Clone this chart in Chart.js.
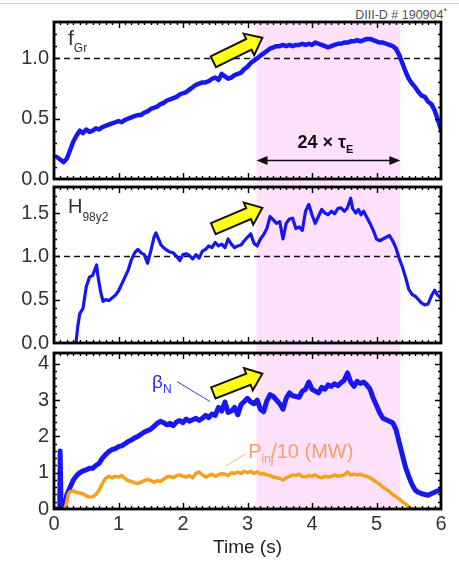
<!DOCTYPE html>
<html>
<head>
<meta charset="utf-8">
<script src="https://cdn.jsdelivr.net/npm/chart.js@4.4.1/dist/chart.umd.min.js"></script>
<style>
  html, body { margin: 0; padding: 0; background: #fff; }
  #wrap { position: relative; width: 459px; height: 561px; overflow: hidden; background: #fff; }
  #wrap canvas { position: absolute; left: 0; }
  #topline { position: absolute; left: 0; top: 3px; width: 459px; height: 1px; background: #d3d7db; }
  #shot { position: absolute; right: 12px; top: 6px; font: 12.5px 'Liberation Sans', Arial, sans-serif; color: #505050; }
  #shot sup { font-size: 9px; }
</style>
</head>
<body>
<div id="wrap">
  <div id="topline"></div>
  <div id="shot">DIII-D # 190904<sup>*</sup></div>
  <canvas id="panelGr" width="459" height="195" style="top:0"></canvas>
  <canvas id="panelH" width="459" height="185" style="top:175px"></canvas>
  <canvas id="panelBeta" width="459" height="220" style="top:341px"></canvas>
</div>
<script>
// flat-top window (s)
const flatTop = [3.14, 5.37];

const timeTicks = [0, 1, 2, 3, 4, 5, 6];
const grTicks = [0, 0.5, 1.0];
const hTicks = [0, 0.5, 1.0, 1.5];
const betaTicks = [0, 1, 2, 3, 4];

// Greenwald fraction [t, f_Gr]
const fGr = [
  [0.05,0.18],[0.10,0.16],[0.15,0.14],[0.20,0.17],[0.25,0.24],[0.30,0.31],[0.35,0.36],[0.40,0.40],
  [0.45,0.38],[0.50,0.41],[0.55,0.39],[0.60,0.40],[0.65,0.42],[0.70,0.41],[0.75,0.43],[0.80,0.44],
  [0.85,0.45],[0.90,0.46],[0.95,0.47],[1.00,0.48],[1.05,0.47],[1.10,0.49],[1.15,0.50],[1.20,0.51],
  [1.25,0.52],[1.30,0.53],[1.35,0.53],[1.40,0.55],[1.45,0.56],[1.50,0.58],[1.55,0.59],[1.60,0.60],
  [1.65,0.62],[1.70,0.63],[1.75,0.65],[1.80,0.66],[1.85,0.67],[1.90,0.68],[1.95,0.70],[2.00,0.71],
  [2.05,0.72],[2.10,0.74],[2.15,0.76],[2.20,0.78],[2.25,0.79],[2.30,0.80],[2.35,0.80],[2.40,0.81],
  [2.45,0.83],[2.50,0.84],[2.55,0.82],[2.60,0.87],[2.65,0.85],[2.70,0.83],[2.75,0.84],[2.80,0.86],
  [2.85,0.87],[2.90,0.88],[2.95,0.91],[3.00,0.93],[3.05,0.96],[3.10,0.98],[3.15,1.00],[3.20,1.02],
  [3.25,1.04],[3.30,1.06],[3.35,1.08],[3.40,1.09],[3.45,1.10],[3.50,1.10],[3.55,1.11],[3.60,1.10],
  [3.65,1.11],[3.70,1.10],[3.75,1.11],[3.80,1.11],[3.85,1.12],[3.90,1.11],[3.95,1.12],[4.00,1.11],
  [4.05,1.13],[4.10,1.12],[4.15,1.11],[4.20,1.10],[4.25,1.09],[4.30,1.10],[4.35,1.11],[4.40,1.12],
  [4.45,1.12],[4.50,1.13],[4.55,1.13],[4.60,1.14],[4.65,1.14],[4.70,1.15],[4.75,1.14],[4.80,1.15],
  [4.85,1.16],[4.90,1.16],[4.95,1.15],[5.00,1.14],[5.05,1.13],[5.10,1.13],[5.15,1.12],[5.20,1.11],
  [5.25,1.10],[5.30,1.08],[5.35,1.03],[5.40,0.96],[5.45,0.89],[5.50,0.83],[5.55,0.79],[5.60,0.76],
  [5.65,0.72],[5.70,0.69],[5.75,0.68],[5.80,0.64],[5.85,0.62],[5.90,0.57],[5.95,0.49],[6.00,0.41]
];

// confinement factor H98y2 [t, H]
const h98 = [
  [0.34,0.00],[0.37,0.20],[0.40,0.34],[0.45,0.40],[0.50,0.65],[0.55,0.76],[0.60,0.78],[0.63,0.84],
  [0.66,0.90],[0.68,0.78],[0.72,0.60],[0.76,0.48],[0.80,0.50],[0.85,0.49],[0.90,0.52],[0.95,0.55],
  [1.00,0.60],[1.05,0.68],[1.10,0.76],[1.15,0.84],[1.20,0.96],[1.25,1.04],[1.30,1.08],[1.35,1.04],
  [1.40,1.02],[1.45,0.92],[1.50,1.06],[1.55,1.22],[1.58,1.27],[1.62,1.20],[1.66,1.13],[1.70,1.10],
  [1.75,1.07],[1.80,1.05],[1.85,1.04],[1.90,1.00],[1.95,0.95],[2.00,1.02],[2.05,1.03],[2.10,1.01],
  [2.15,0.97],[2.20,1.02],[2.25,0.98],[2.30,1.06],[2.35,1.08],[2.40,1.12],[2.45,1.10],[2.50,1.16],
  [2.55,1.12],[2.60,1.14],[2.65,1.10],[2.70,1.20],[2.75,1.14],[2.80,1.10],[2.85,1.12],[2.90,1.13],
  [2.95,1.18],[3.00,1.22],[3.05,1.26],[3.10,1.15],[3.15,1.12],[3.20,1.20],[3.25,1.25],[3.30,1.32],
  [3.35,1.46],[3.40,1.42],[3.45,1.38],[3.50,1.40],[3.55,1.20],[3.60,1.38],[3.65,1.43],[3.70,1.44],
  [3.75,1.32],[3.80,1.34],[3.85,1.30],[3.90,1.52],[3.95,1.60],[4.00,1.48],[4.05,1.38],[4.10,1.46],
  [4.15,1.54],[4.20,1.50],[4.25,1.48],[4.30,1.52],[4.35,1.49],[4.40,1.55],[4.45,1.56],[4.50,1.52],
  [4.55,1.56],[4.60,1.67],[4.63,1.55],[4.68,1.50],[4.72,1.54],[4.76,1.48],[4.80,1.52],[4.85,1.45],
  [4.90,1.38],[4.95,1.30],[5.00,1.20],[5.05,1.18],[5.10,1.20],[5.15,1.22],[5.20,1.24],[5.25,1.18],
  [5.30,1.10],[5.35,0.98],[5.40,0.88],[5.45,0.76],[5.50,0.62],[5.55,0.56],[5.60,0.54],[5.65,0.50],
  [5.70,0.46],[5.75,0.44],[5.80,0.45],[5.85,0.54],[5.90,0.61],[5.95,0.55],[6.00,0.52]
];

// normalised beta [t, beta_N]
const betaN = [
  [0.02,0.00],[0.09,0.00],[0.095,1.60],[0.105,1.60],[0.11,0.00],[0.15,0.00],[0.17,0.10],[0.20,0.40],
  [0.25,0.60],[0.30,0.80],[0.35,0.92],[0.40,1.00],[0.45,1.05],[0.50,1.08],[0.55,1.12],[0.60,1.12],
  [0.65,1.20],[0.70,1.26],[0.75,1.40],[0.80,1.50],[0.85,1.58],[0.90,1.64],[0.95,1.66],[1.00,1.72],
  [1.05,1.74],[1.10,1.80],[1.15,1.86],[1.20,1.90],[1.25,1.96],[1.30,2.00],[1.35,2.06],[1.40,2.12],
  [1.45,2.16],[1.50,2.20],[1.55,2.28],[1.60,2.36],[1.65,2.42],[1.70,2.38],[1.75,2.32],[1.80,2.36],
  [1.85,2.30],[1.90,2.40],[1.95,2.44],[2.00,2.38],[2.05,2.48],[2.10,2.42],[2.15,2.46],[2.20,2.50],
  [2.25,2.44],[2.30,2.50],[2.35,2.58],[2.40,2.52],[2.45,2.62],[2.50,2.58],[2.55,2.80],[2.60,2.70],
  [2.65,2.95],[2.70,2.66],[2.75,2.70],[2.80,2.80],[2.85,2.60],[2.90,2.88],[2.95,2.96],[3.00,3.05],
  [3.05,2.95],[3.10,2.90],[3.15,3.00],[3.20,2.75],[3.25,2.68],[3.30,2.98],[3.35,3.15],[3.40,3.10],
  [3.45,3.00],[3.50,2.90],[3.55,2.75],[3.60,3.05],[3.65,3.20],[3.70,3.12],[3.75,3.10],[3.80,3.08],
  [3.85,3.25],[3.90,3.30],[3.95,3.50],[4.00,3.30],[4.05,3.25],[4.10,3.20],[4.15,3.35],[4.20,3.30],
  [4.25,3.42],[4.30,3.38],[4.35,3.45],[4.40,3.40],[4.45,3.48],[4.50,3.55],[4.55,3.75],[4.60,3.50],
  [4.65,3.38],[4.70,3.52],[4.75,3.46],[4.80,3.50],[4.85,3.42],[4.90,3.30],[4.95,3.05],[5.00,2.85],
  [5.05,2.65],[5.10,2.50],[5.15,2.46],[5.20,2.42],[5.25,2.38],[5.30,2.20],[5.35,1.85],[5.40,1.50],
  [5.45,1.15],[5.50,0.90],[5.55,0.68],[5.60,0.52],[5.65,0.46],[5.70,0.42],[5.75,0.40],[5.80,0.38],
  [5.85,0.42],[5.90,0.46],[5.95,0.50],[6.00,0.52]
];

// injected power / 10 (MW) [t, P]
const pInj = [
  [0.17,0.00],[0.20,0.20],[0.22,0.40],[0.25,0.48],[0.30,0.50],[0.35,0.46],[0.40,0.44],[0.45,0.42],
  [0.50,0.36],[0.55,0.33],[0.60,0.34],[0.65,0.40],[0.70,0.52],[0.75,0.70],[0.80,0.85],[0.85,0.90],
  [0.90,0.86],[0.95,0.90],[1.00,0.88],[1.05,0.92],[1.10,0.84],[1.15,0.78],[1.20,0.76],[1.25,0.72],
  [1.30,0.70],[1.35,0.74],[1.40,0.78],[1.45,0.82],[1.50,0.78],[1.55,0.74],[1.60,0.78],[1.65,0.76],
  [1.70,0.82],[1.75,0.88],[1.80,0.90],[1.85,0.86],[1.90,0.92],[1.95,0.94],[2.00,0.90],[2.05,0.88],
  [2.10,0.92],[2.15,0.86],[2.20,0.98],[2.25,1.02],[2.30,0.94],[2.35,0.88],[2.40,0.92],[2.45,0.96],
  [2.50,0.90],[2.55,0.94],[2.60,0.98],[2.65,0.96],[2.70,0.92],[2.75,1.00],[2.80,0.98],[2.85,1.02],
  [2.90,0.98],[2.95,1.04],[3.00,1.00],[3.05,1.04],[3.10,0.98],[3.15,1.02],[3.20,0.96],[3.25,0.98],
  [3.30,0.94],[3.35,0.92],[3.40,0.88],[3.45,0.86],[3.50,0.84],[3.55,0.80],[3.60,0.86],[3.65,0.90],
  [3.70,0.94],[3.75,0.92],[3.80,0.96],[3.85,0.90],[3.90,0.88],[3.95,0.92],[4.00,0.90],[4.05,0.94],
  [4.10,0.88],[4.15,0.86],[4.20,0.90],[4.25,0.88],[4.30,0.90],[4.35,0.94],[4.40,0.90],[4.45,0.92],
  [4.50,0.94],[4.55,1.02],[4.60,0.94],[4.65,0.96],[4.70,0.94],[4.75,0.96],[4.80,0.92],[4.85,0.90],
  [4.90,0.86],[4.95,0.80],[5.00,0.74],[5.05,0.68],[5.10,0.60],[5.15,0.54],[5.20,0.48],[5.25,0.40],
  [5.30,0.34],[5.35,0.28],[5.40,0.20],[5.45,0.14],[5.50,0.06],[5.55,0.01],[5.60,0.00],[6.00,0.00]
];

const FONT = "'Liberation Sans', Arial, Helvetica, sans-serif";
Chart.defaults.font.family = FONT;

const BLUE = '#1717f2';
const ORANGE = '#f6a11e';
const PINK = '#fde1fb';

const toPoints = pairs => pairs.map(([x, y]) => ({ x, y }));

// shaded window, reference line, boxed frame with inward ticks
const framePlugin = {
  id: 'frame',
  beforeDatasetsDraw(chart, args, opts) {
    const { ctx, chartArea: a, scales: { x, y } } = chart;
    const xs = x.getPixelForValue(flatTop[0]);
    const xe = x.getPixelForValue(flatTop[1]);
    ctx.save();
    ctx.fillStyle = PINK;
    // carry the band down through the gap to the next panel
    ctx.fillRect(xs, a.top, xe - xs, a.bottom - a.top + (opts.gapBelow || 0));
    if (opts.refLine) {
      const yy = Math.round(y.getPixelForValue(opts.refLine)) + 0.5;
      ctx.setLineDash([6, 4]);
      ctx.strokeStyle = '#111';
      ctx.lineWidth = 1.7;
      ctx.beginPath();
      ctx.moveTo(a.left, yy);
      ctx.lineTo(a.right, yy);
      ctx.stroke();
    }
    ctx.restore();
  },
  afterDatasetsDraw(chart, args, opts) {
    const { ctx, chartArea: a, scales: { x, y } } = chart;
    ctx.save();
    ctx.strokeStyle = '#000';
    ctx.lineWidth = 1.4;
    ctx.beginPath();
    for (let i = 1; i < 60; i++) {
      const px = Math.round(x.getPixelForValue(i / 10)) + 0.5;
      const len = i % 10 === 0 ? 6 : 3;
      ctx.moveTo(px, a.bottom); ctx.lineTo(px, a.bottom - len);
      ctx.moveTo(px, a.top); ctx.lineTo(px, a.top + len);
    }
    const steps = Math.round(y.max / opts.minor);
    for (let j = 1; j < steps; j++) {
      const v = j * opts.minor;
      const py = Math.round(y.getPixelForValue(v)) + 0.5;
      const r = v / opts.major;
      const len = Math.abs(r - Math.round(r)) < 1e-6 ? 6 : 3;
      ctx.moveTo(a.left, py); ctx.lineTo(a.left + len, py);
      ctx.moveTo(a.right, py); ctx.lineTo(a.right - len, py);
    }
    ctx.stroke();
    ctx.lineWidth = 2.8;
    ctx.strokeRect(a.left, a.top, a.right - a.left, a.bottom - a.top);
    ctx.restore();
  }
};

function subText(ctx, x, y, main, sub, size, subSize, color, drop, weight) {
  const w8 = weight || 'normal';
  ctx.fillStyle = color;
  ctx.textAlign = 'left';
  ctx.textBaseline = 'alphabetic';
  ctx.font = `${w8} ${size}px ${FONT}`;
  ctx.fillText(main, x, y);
  const w = ctx.measureText(main).width;
  ctx.font = `${w8} ${subSize}px ${FONT}`;
  ctx.fillText(sub, x + w, y + drop);
  return x + w + ctx.measureText(sub).width;
}

// yellow block arrow between two data points
function fatArrow(chart, from, to) {
  const { ctx, scales: { x, y } } = chart;
  const x0 = x.getPixelForValue(from[0]), y0 = y.getPixelForValue(from[1]);
  const x1 = x.getPixelForValue(to[0]), y1 = y.getPixelForValue(to[1]);
  const len = Math.hypot(x1 - x0, y1 - y0);
  const bw = 6, hw = 12, hl = 15;
  ctx.save();
  ctx.translate(x0, y0);
  ctx.rotate(Math.atan2(y1 - y0, x1 - x0));
  ctx.beginPath();
  ctx.moveTo(0, -bw);
  ctx.lineTo(len - hl, -bw);
  ctx.lineTo(len - hl, -hw);
  ctx.lineTo(len, 0);
  ctx.lineTo(len - hl, hw);
  ctx.lineTo(len - hl, bw);
  ctx.lineTo(0, bw);
  ctx.closePath();
  ctx.fillStyle = '#ffff14';
  ctx.fill();
  ctx.lineWidth = 2;
  ctx.lineJoin = 'miter';
  ctx.strokeStyle = '#151515';
  ctx.stroke();
  ctx.restore();
}

function leader(chart, from, to, color) {
  const { ctx, scales: { x, y } } = chart;
  ctx.save();
  ctx.strokeStyle = color;
  ctx.lineWidth = 1;
  ctx.beginPath();
  ctx.moveTo(x.getPixelForValue(from[0]), y.getPixelForValue(from[1]));
  ctx.lineTo(x.getPixelForValue(to[0]), y.getPixelForValue(to[1]));
  ctx.stroke();
  ctx.restore();
}

function grNotes(chart) {
  const { ctx, chartArea: a, scales: { x, y } } = chart;
  subText(ctx, a.left + 14, a.top + 23, 'f', 'Gr', 21, 12, '#333', 7);

  // span of the flat-top window
  const xs = x.getPixelForValue(flatTop[0]);
  const xe = x.getPixelForValue(flatTop[1]);
  const ya = Math.round(y.getPixelForValue(0.16)) + 0.5;
  ctx.save();
  ctx.strokeStyle = '#111';
  ctx.fillStyle = '#111';
  ctx.lineWidth = 1.6;
  ctx.beginPath();
  ctx.moveTo(xs + 8, ya); ctx.lineTo(xe - 8, ya);
  ctx.stroke();
  ctx.beginPath();
  ctx.moveTo(xs, ya); ctx.lineTo(xs + 11, ya - 4.5); ctx.lineTo(xs + 11, ya + 4.5); ctx.closePath();
  ctx.moveTo(xe, ya); ctx.lineTo(xe - 11, ya - 4.5); ctx.lineTo(xe - 11, ya + 4.5); ctx.closePath();
  ctx.fill();

  ctx.font = `bold 18px ${FONT}`;
  const wMain = ctx.measureText('24 \u00d7 \u03c4').width;
  ctx.font = `bold 11px ${FONT}`;
  const wSub = ctx.measureText('E').width;
  const start = (xs + xe) / 2 - (wMain + wSub) / 2 - 3;
  subText(ctx, start, y.getPixelForValue(0.256), '24 \u00d7 \u03c4', 'E', 18, 11, '#111', 5, 'bold');
  ctx.restore();

  fatArrow(chart, [2.47, 0.97], [3.23, 1.17]);
}

function hNotes(chart) {
  const { ctx, chartArea: a } = chart;
  subText(ctx, a.left + 14, a.top + 26, 'H', '98y2', 20, 12, '#333', 8);
  fatArrow(chart, [2.47, 1.32], [3.23, 1.56]);
}

function betaNotes(chart) {
  const { ctx, scales: { x, y } } = chart;
  subText(ctx, x.getPixelForValue(1.52), y.getPixelForValue(3.34), '\u03b2', 'N', 19, 12, '#2a2af5', 5);
  leader(chart, [1.91, 3.51], [2.42, 2.96], '#3a3af0');
  subText(ctx, x.getPixelForValue(3.01), y.getPixelForValue(1.41), 'P', 'inj', 20, 12, '#f3a167', 5);
  ctx.font = `20px ${FONT}`;
  ctx.fillText('/10 (MW)', x.getPixelForValue(3.01) + 23, y.getPixelForValue(1.41));
  leader(chart, [2.67, 1.19], [2.97, 1.52], '#f5b27a');
  fatArrow(chart, [2.47, 3.2], [3.23, 3.73]);
}

function makePanel(id, cfg) {
  return new Chart(document.getElementById(id), {
    type: 'line',
    data: { datasets: cfg.datasets },
    options: {
      responsive: false,
      animation: false,
      devicePixelRatio: 1,
      layout: { padding: cfg.padding, autoPadding: false },
      elements: {
        point: { radius: 0 },
        line: { tension: 0, borderJoinStyle: 'round', borderCapStyle: 'round' }
      },
      plugins: {
        legend: { display: false },
        tooltip: { enabled: false },
        frame: cfg.frame
      },
      scales: {
        x: {
          type: 'linear', min: 0, max: 6,
          display: cfg.showTime,
          grid: { display: false, drawTicks: false },
          border: { display: false },
          afterBuildTicks: s => { s.ticks = timeTicks.map(v => ({ value: v })); },
          afterFit: s => {
            s.height = cfg.showTime ? 52 : 0;
            s.paddingLeft = 0; s.paddingRight = 0; s.paddingTop = 0; s.paddingBottom = 0;
          },
          ticks: { autoSkip: false, maxRotation: 0, padding: 3, color: '#333', font: { size: 20 } },
          title: {
            display: cfg.showTime, text: 'Time (s)', color: '#222',
            font: { size: 19 }, padding: { top: 0, bottom: 2 }
          }
        },
        y: {
          type: 'linear', min: 0, max: cfg.yMax,
          grid: { display: false, drawTicks: false },
          border: { display: false },
          afterBuildTicks: s => { s.ticks = cfg.yTicks.map(v => ({ value: v })); },
          afterFit: s => {
            s.width = 54;
            s.paddingTop = 0; s.paddingBottom = 0; s.paddingLeft = 0; s.paddingRight = 0;
          },
          ticks: { autoSkip: false, padding: 5, color: '#333', font: { size: 20 }, callback: cfg.fmt }
        }
      }
    },
    plugins: [framePlugin, { id: 'notes', afterDatasetsDraw: cfg.notes }]
  });
}

const oneDecimal = v => Number(v).toFixed(1);

makePanel('panelGr', {
  padding: { top: 22, right: 18, bottom: 16, left: 0 },
  yMax: 1.3, yTicks: grTicks, fmt: oneDecimal, showTime: false,
  frame: { gapBelow: 8, refLine: 1.0, minor: 0.1, major: 0.5 },
  datasets: [{ data: toPoints(fGr), borderColor: BLUE, borderWidth: 4.5 }],
  notes: grNotes
});

makePanel('panelH', {
  padding: { top: 12, right: 18, bottom: 17, left: 0 },
  yMax: 1.8, yTicks: hTicks, fmt: oneDecimal, showTime: false,
  frame: { gapBelow: 10, refLine: 1.0, minor: 0.1, major: 0.5 },
  datasets: [{ data: toPoints(h98), borderColor: BLUE, borderWidth: 3.2 }],
  notes: hNotes
});

makePanel('panelBeta', {
  padding: { top: 12, right: 18, bottom: 0, left: 0 },
  yMax: 4.3, yTicks: betaTicks, fmt: v => String(v), showTime: true,
  frame: { gapBelow: 0, refLine: 0, minor: 0.2, major: 1 },
  datasets: [
    { data: toPoints(pInj), borderColor: ORANGE, borderWidth: 3.5 },
    { data: toPoints(betaN), borderColor: BLUE, borderWidth: 5 }
  ],
  notes: betaNotes
});
</script>
</body>
</html>
